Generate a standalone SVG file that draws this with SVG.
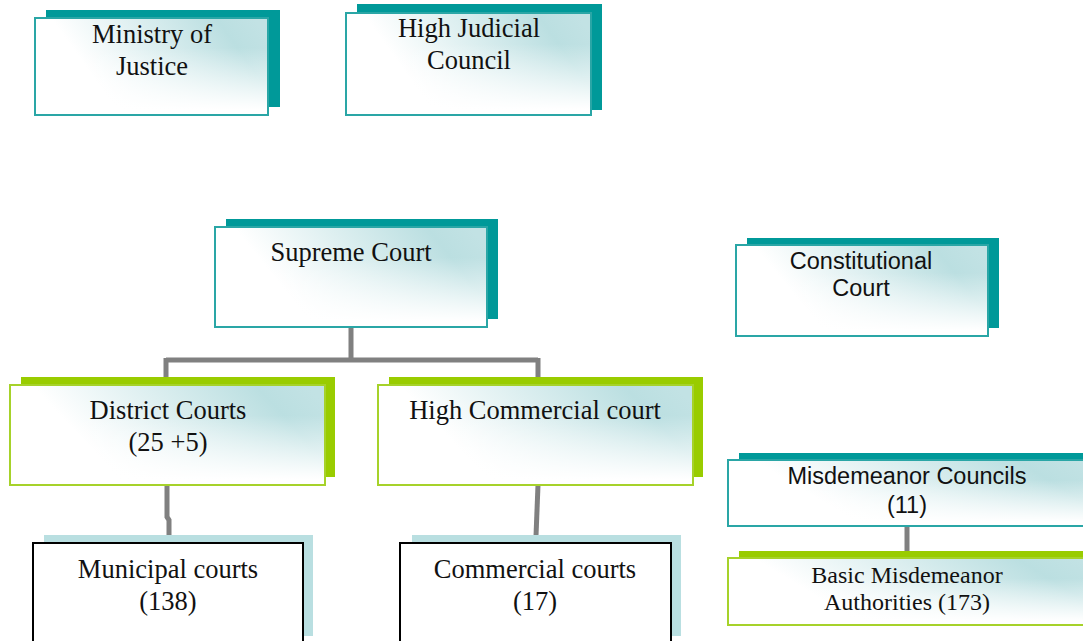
<svg xmlns="http://www.w3.org/2000/svg" width="1083" height="641" viewBox="0 0 1083 641">
<defs>
<linearGradient id="gh" x1="0" y1="0.5" x2="1" y2="0.2">
<stop offset="0" stop-color="#ffffff"/>
<stop offset="0.2" stop-color="#ffffff"/>
<stop offset="0.85" stop-color="#bbdfe1"/>
<stop offset="1" stop-color="#c2e2e4"/>
</linearGradient>
<linearGradient id="gv" x1="0" y1="0" x2="0" y2="1">
<stop offset="0.3" stop-color="#ffffff" stop-opacity="0"/>
<stop offset="0.95" stop-color="#ffffff" stop-opacity="1"/>
</linearGradient>
<style>
.sht{fill:#009999}
.shg{fill:#99cc00}
.shb{fill:#b9dfe1}
.bt{stroke:#2aa6a6;stroke-width:2}
.bg{stroke:#a6d22a;stroke-width:2}
.bb{fill:#ffffff;stroke:#000000;stroke-width:2}
.ov{fill:url(#gv)}
.fg{fill:url(#gh)}
.tr{font-family:"Liberation Serif","Times New Roman",serif;font-size:26.5px;fill:#111;text-anchor:middle}
.ta{font-family:"Liberation Sans",Arial,sans-serif;font-size:23.5px;fill:#111;text-anchor:middle}
.ts{font-size:24px}
.con{stroke:#808080;stroke-width:5;fill:none}
</style>
</defs>
<rect width="1083" height="641" fill="#ffffff"/>

<g id="connectors">
<path class="con" d="M351 327 V360 M166 360 H538 M166 358 V378 M538 358 V378"/>
<path class="con" d="M167 485 V517 L169 520 V536"/>
<path class="con" d="M538 485 L536 536"/>
<path class="con" d="M907 526 V552"/>
</g>

<g id="ministry">
<rect class="sht" x="46" y="10" width="234" height="97"/>
<rect class="fg bt" x="35" y="18" width="233" height="97"/>
<rect class="ov" x="36" y="19" width="231" height="95"/>
<text class="tr" x="152" y="43">Ministry of</text>
<text class="tr" x="152" y="75">Justice</text>
</g>

<g id="hjc">
<rect class="sht" x="357" y="4" width="245" height="106"/>
<rect class="fg bt" x="346" y="13" width="245" height="102"/>
<rect class="ov" x="347" y="14" width="243" height="100"/>
<text class="tr" x="469" y="37">High Judicial</text>
<text class="tr" x="469" y="69">Council</text>
</g>

<g id="supreme">
<rect class="sht" x="226" y="219" width="272" height="100"/>
<rect class="fg bt" x="215" y="227" width="272" height="100"/>
<rect class="ov" x="216" y="228" width="270" height="98"/>
<text class="tr" x="351" y="261">Supreme Court</text>
</g>

<g id="constitutional">
<rect class="sht" x="747" y="238" width="252" height="90"/>
<rect class="fg bt" x="736" y="245" width="252" height="91"/>
<rect class="ov" x="737" y="246" width="250" height="89"/>
<text class="ta" x="861" y="269">Constitutional</text>
<text class="ta" x="861" y="296">Court</text>
</g>

<g id="district">
<rect class="shg" x="21" y="377" width="314" height="100"/>
<rect class="fg bg" x="10" y="385" width="315" height="100"/>
<rect class="ov" x="11" y="386" width="313" height="98"/>
<text class="tr" x="168" y="419">District Courts</text>
<text class="tr" x="168" y="451">(25 +5)</text>
</g>

<g id="highcommercial">
<rect class="shg" x="389" y="377" width="314" height="100"/>
<rect class="fg bg" x="378" y="385" width="315" height="100"/>
<rect class="ov" x="379" y="386" width="313" height="98"/>
<text class="tr" x="535" y="419">High Commercial court</text>
</g>

<g id="municipal">
<rect class="shb" x="44" y="535" width="269" height="101"/>
<rect class="bb" x="33" y="543" width="270" height="110"/>
<text class="tr" x="168" y="578">Municipal courts</text>
<text class="tr" x="168" y="610">(138)</text>
</g>

<g id="commercial">
<rect class="shb" x="412" y="535" width="269" height="101"/>
<rect class="bb" x="400" y="543" width="271" height="110"/>
<text class="tr" x="535" y="578">Commercial courts</text>
<text class="tr" x="535" y="610">(17)</text>
</g>

<g id="misdemeanor">
<rect class="sht" x="739" y="453" width="360" height="66"/>
<rect class="fg bt" x="728" y="460" width="370" height="66"/>
<rect class="ov" x="729" y="461" width="368" height="64"/>
<text class="ta" x="907" y="484">Misdemeanor Councils</text>
<text class="ta" x="907" y="513">(11)</text>
</g>

<g id="basic">
<rect class="shg" x="739" y="551" width="360" height="66"/>
<rect class="fg bg" x="728" y="558" width="370" height="67"/>
<rect class="ov" x="729" y="559" width="368" height="65"/>
<text class="tr ts" x="907" y="583">Basic Misdemeanor</text>
<text class="tr ts" x="907" y="610">Authorities (173)</text>
</g>
</svg>
